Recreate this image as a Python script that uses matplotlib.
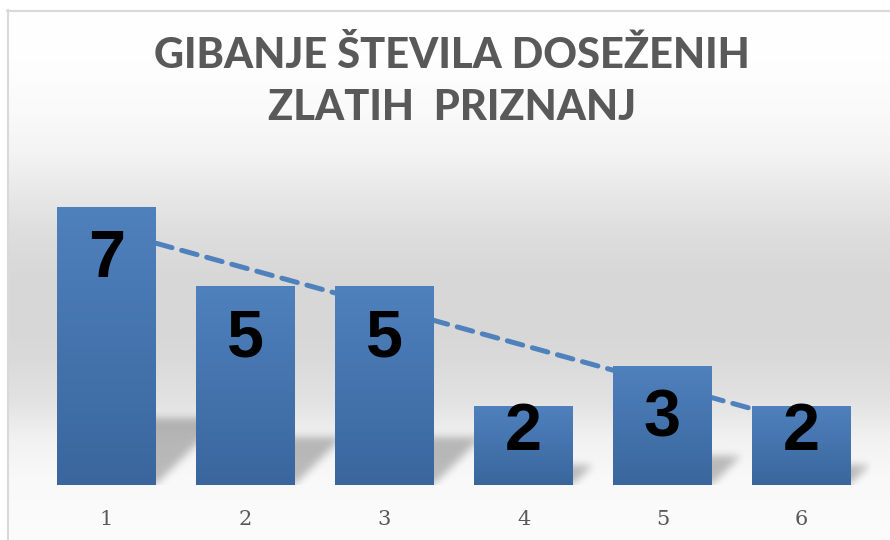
import numpy as np
import matplotlib
matplotlib.use("Agg")
import matplotlib.pyplot as plt
from matplotlib.colors import LinearSegmentedColormap

# ---- data ----
categories = ["1", "2", "3", "4", "5", "6"]
values = [7, 5, 5, 2, 3, 2]
title_lines = ["GIBANJE ŠTEVILA DOSEŽENIH", "ZLATIH  PRIZNANJ"]

W, H, DPI = 890, 540, 100
fig = plt.figure(figsize=(W / DPI, H / DPI), dpi=DPI)
fig.patch.set_facecolor("white")

# ---- background gradient (figure-level axes) ----
bg = fig.add_axes([0, 0, 1, 1], zorder=0)
bg.set_xlim(0, W); bg.set_ylim(H, 0); bg.axis("off")
stops_y = [0, 10, 60, 110, 150, 190, 230, 280, 330, 360, 400, 420, 440, 480, 540]
stops_g = [255, 255, 254, 250, 244, 233, 222, 215, 215, 218, 226, 234, 242, 249, 252]
yy = np.arange(H)
grey = np.interp(yy, stops_y, stops_g) / 255.0
img = np.repeat(grey[:, None], W, axis=1)
img = np.dstack([img, img, img])
img[:10, :, :] = 1.0
img[:, :7, :] = 1.0
bg.imshow(img, extent=(0, W, H, 0), aspect="auto", interpolation="bilinear")
bg.plot([7, W], [10.5, 10.5], color="#D9D9D9", lw=1.5)
bg.plot([7.5, 7.5], [10, H], color="#D9D9D9", lw=1.5)

# ---- main axes ----
ax_left, ax_right = 37, 871
ax_bottom, ax_top = 485, 167
ax = fig.add_axes([ax_left / W, (H - ax_bottom) / H, (ax_right - ax_left) / W,
                   (ax_bottom - ax_top) / H], zorder=1)
ax.patch.set_alpha(0)
x = np.arange(1, len(values) + 1)
ax.set_xlim(0.5, len(values) + 0.5)
ax.set_ylim(0, 8)
for s in ax.spines.values():
    s.set_visible(False)
ax.set_yticks([])
ax.set_xticks(x)
ax.set_xticklabels(categories, fontsize=15, color="#595959", family="DejaVu Serif")
ax.tick_params(axis="x", length=0, pad=18)

bar_w = 0.71

# ---- soft perspective shadows (rasterised from data, then blurred) ----
nx, ny = ax_right - ax_left, ax_bottom - ax_top
xs = np.linspace(0.5, len(values) + 0.5, nx)
ys = np.linspace(0, 8, ny)
XX, YY = np.meshgrid(xs, ys)
px_per_x = nx / len(values)
px_per_y = ny / 8.0
mask = np.zeros_like(XX)
for xi, v in zip(x, values):
    top = 0.24 * v
    shift = YY * px_per_y / px_per_x
    inside = (YY >= 0.02) & (YY <= top) & (XX >= xi - bar_w / 2 + shift + 0.02) & \
             (XX <= xi + bar_w / 2 + shift)
    mask[inside] = 1.0

def blur(a, sigma):
    r = int(3 * sigma)
    k = np.exp(-0.5 * (np.arange(-r, r + 1) / sigma) ** 2)
    k /= k.sum()
    a = np.apply_along_axis(lambda m: np.convolve(m, k, mode="same"), 0, a)
    a = np.apply_along_axis(lambda m: np.convolve(m, k, mode="same"), 1, a)
    return a

mask = blur(mask, 4.0)
shadow = np.zeros((ny, nx, 4))
shadow[..., 3] = mask * 0.25
ax.imshow(shadow, extent=(0.5, len(values) + 0.5, 0, 8), origin="lower",
          aspect="auto", zorder=1, interpolation="bilinear")

# ---- trendline (linear) ----
slope, intercept = np.polyfit(x, values, 1)
tx = np.array([x[0], x[-1]], dtype=float)
ax.plot(tx, slope * tx + intercept, color="#4F81BD", lw=3.6,
        dashes=(3.2, 2.0), dash_capstyle="round", zorder=2)

# ---- bars with vertical gradient ----
bar_cmap = LinearSegmentedColormap.from_list("bar", ["#3A669D", "#4F81BD"])
grad = np.linspace(0, 1, 256)[:, None]
bars = ax.bar(x, values, width=bar_w, color="none", zorder=3)
for b, v in zip(bars, values):
    x0 = b.get_x()
    im = ax.imshow(grad, cmap=bar_cmap, origin="lower", aspect="auto",
                   extent=(x0, x0 + b.get_width(), 0, v), zorder=3,
                   interpolation="bilinear")
    im.set_clip_path(b)

ax.set_xlim(0.5, len(values) + 0.5)
ax.set_ylim(0, 8)

# ---- data labels ----
for xi, v in zip(x, values):
    yl = max(v - 1.35, 1.30)
    ax.text(xi, yl, str(v), ha="center", va="center", fontsize=48,
            fontweight="bold", color="black", family="Liberation Sans", zorder=4)

# ---- title ----
for line, yc in zip(title_lines, [56, 108]):
    fig.text(452 / W, 1 - yc / H, line, ha="center", va="center",
             fontsize=30, fontweight="black", color="#595959", family="Lato",
             zorder=2)

fig.savefig("out.png", dpi=DPI)
